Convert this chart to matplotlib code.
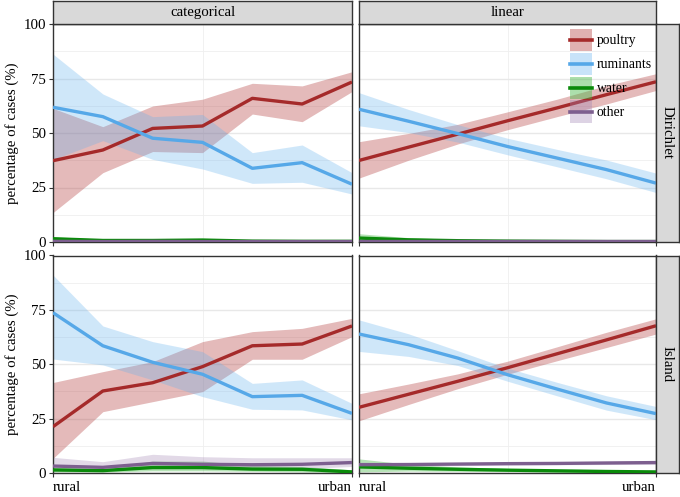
import matplotlib
matplotlib.use("Agg")
import matplotlib.pyplot as plt
from matplotlib.patches import Rectangle
from matplotlib.lines import Line2D
from matplotlib.legend_handler import HandlerBase

plt.rcParams['font.family'] = ['Liberation Serif', 'DejaVu Serif']

# ---------------- data ----------------
x_pos = [0, 1, 2, 3, 4, 5, 6]
x_tick_pos = [0, 6]
x_tick_labels = ['rural', 'urban']
y_ticks = [0, 25, 50, 75, 100]
col_labels = ['categorical', 'linear']
row_labels = ['Dirichlet', 'Island']
series_names = ['poultry', 'ruminants', 'water', 'other']

# Dirichlet / categorical
dc_poultry = [37.3, 42.2, 52.1, 53.2, 65.9, 63.3, 73.4]
dc_poultry_lo = [13.5, 31.8, 41.5, 41.0, 58.7, 55.2, 69.0]
dc_poultry_hi = [61.3, 52.9, 62.4, 65.5, 72.8, 71.6, 78.1]
dc_rumin = [61.8, 57.5, 47.6, 45.7, 33.8, 36.4, 26.5]
dc_rumin_lo = [37.8, 46.5, 37.9, 33.5, 26.9, 27.4, 22.0]
dc_rumin_hi = [86.2, 67.9, 57.5, 58.5, 41.0, 44.5, 31.8]
dc_water = [1.5, 0.7, 0.7, 0.9, 0.4, 0.3, 0.3]
dc_water_lo = [0.3, 0.1, 0.1, 0.2, 0.05, 0.05, 0.05]
dc_water_hi = [2.4, 1.3, 1.4, 1.6, 0.9, 0.7, 0.6]
dc_other = [0.3, 0.2, 0.3, 0.2, 0.2, 0.2, 0.2]
dc_other_lo = [0.05, 0.05, 0.05, 0.05, 0.05, 0.05, 0.05]
dc_other_hi = [0.8, 0.6, 0.7, 0.6, 0.5, 0.5, 0.5]

# Dirichlet / linear
dl_poultry = [37.4, 43.5, 49.5, 55.6, 61.5, 67.6, 73.5]
dl_poultry_lo = [29.3, 37.5, 45.0, 51.5, 57.5, 63.3, 69.5]
dl_poultry_hi = [46.0, 49.8, 54.0, 59.7, 65.5, 71.8, 77.2]
dl_rumin = [60.9, 55.4, 49.7, 43.8, 38.5, 33.2, 27.0]
dl_rumin_lo = [53.3, 50.2, 45.8, 40.0, 34.5, 29.0, 22.7]
dl_rumin_hi = [68.5, 60.8, 53.8, 47.6, 42.5, 37.6, 31.6]
dl_water = [1.8, 1.0, 0.6, 0.4, 0.3, 0.2, 0.2]
dl_water_lo = [0.6, 0.4, 0.2, 0.1, 0.1, 0.05, 0.05]
dl_water_hi = [3.8, 2.0, 1.2, 0.8, 0.6, 0.4, 0.4]
dl_other = [0.3, 0.3, 0.3, 0.3, 0.3, 0.3, 0.3]
dl_other_lo = [0.1, 0.1, 0.1, 0.1, 0.1, 0.1, 0.1]
dl_other_hi = [0.6, 0.6, 0.6, 0.6, 0.6, 0.6, 0.6]

# Island / categorical
ic_poultry = [21.3, 37.7, 41.5, 48.9, 58.5, 59.3, 67.6]
ic_poultry_lo = [6.7, 28.2, 32.8, 37.4, 52.3, 52.3, 62.7]
ic_poultry_hi = [41.6, 46.6, 51.2, 60.4, 65.0, 66.5, 71.1]
ic_rumin = [73.7, 58.5, 50.9, 45.4, 35.1, 35.7, 27.4]
ic_rumin_lo = [52.4, 49.7, 42.8, 35.1, 29.3, 29.0, 24.4]
ic_rumin_hi = [91.0, 67.6, 60.4, 55.8, 41.2, 42.8, 32.0]
ic_water = [1.4, 1.1, 2.5, 2.5, 1.8, 1.7, 0.5]
ic_water_lo = [0.5, 0.4, 1.0, 1.0, 0.8, 0.5, 0.1]
ic_water_hi = [2.5, 2.0, 5.5, 5.5, 3.5, 3.0, 1.5]
ic_other = [3.2, 2.6, 4.4, 4.0, 3.8, 4.0, 4.8]
ic_other_lo = [1.5, 1.0, 2.5, 2.0, 2.0, 2.0, 3.0]
ic_other_hi = [7.2, 5.2, 8.6, 7.5, 7.0, 7.0, 7.0]

# Island / linear
il_poultry = [30.2, 36.2, 42.2, 48.4, 54.8, 61.2, 67.7]
il_poultry_lo = [24.0, 31.5, 38.8, 45.4, 51.6, 57.7, 63.9]
il_poultry_hi = [36.4, 40.9, 45.6, 51.4, 58.0, 64.7, 70.9]
il_rumin = [63.9, 59.0, 52.8, 45.2, 38.6, 32.2, 27.3]
il_rumin_lo = [55.9, 53.6, 49.4, 42.2, 35.5, 28.9, 24.5]
il_rumin_hi = [70.4, 64.0, 56.2, 48.2, 41.7, 35.5, 30.6]
il_water = [2.8, 2.2, 1.7, 1.3, 1.0, 0.7, 0.5]
il_water_lo = [0.5, 0.9, 0.8, 0.6, 0.4, 0.3, 0.2]
il_water_hi = [6.5, 4.0, 2.8, 2.1, 1.6, 1.2, 0.9]
il_other = [3.8, 3.9, 4.1, 4.3, 4.4, 4.6, 4.8]
il_other_lo = [2.8, 3.1, 3.4, 3.6, 3.8, 3.9, 4.0]
il_other_hi = [5.0, 4.8, 4.9, 5.0, 5.2, 5.4, 5.7]

line_colors = ['#a52a2a', '#56a8e8', '#0a8a0a', '#7d5f8f']
band_colors = ['#b84a4a', '#63b1ee', '#3fb63f', '#9f82b2']
band_alpha = [0.38, 0.3, 0.38, 0.3]

panels = [
    [[(dc_poultry, dc_poultry_lo, dc_poultry_hi), (dc_rumin, dc_rumin_lo, dc_rumin_hi),
      (dc_water, dc_water_lo, dc_water_hi), (dc_other, dc_other_lo, dc_other_hi)],
     [(dl_poultry, dl_poultry_lo, dl_poultry_hi), (dl_rumin, dl_rumin_lo, dl_rumin_hi),
      (dl_water, dl_water_lo, dl_water_hi), (dl_other, dl_other_lo, dl_other_hi)]],
    [[(ic_poultry, ic_poultry_lo, ic_poultry_hi), (ic_rumin, ic_rumin_lo, ic_rumin_hi),
      (ic_water, ic_water_lo, ic_water_hi), (ic_other, ic_other_lo, ic_other_hi)],
     [(il_poultry, il_poultry_lo, il_poultry_hi), (il_rumin, il_rumin_lo, il_rumin_hi),
      (il_water, il_water_lo, il_water_hi), (il_other, il_other_lo, il_other_hi)]],
]


class KeyHandle:
    def __init__(self, band, alpha, line):
        self.band, self.alpha, self.line = band, alpha, line


class KeyHandler(HandlerBase):
    def create_artists(self, legend, orig_handle, xdescent, ydescent, width,
                       height, fontsize, trans):
        size = width
        yc = fontsize * 0.3
        rect = Rectangle((-xdescent, yc - size / 2), size, size,
                         facecolor=orig_handle.band, alpha=orig_handle.alpha,
                         lw=0, transform=trans)
        ln = Line2D([-xdescent, -xdescent + size], [yc, yc],
                    color=orig_handle.line, lw=2.6, transform=trans)
        return [rect, ln]


# ---------------- layout ----------------
W, H = 680, 497
fig = plt.figure(figsize=(W / 100, H / 100), dpi=100)

col_x = [(53, 352), (359, 656)]
row_y = [(24, 242), (255.5, 473)]
strip_top = (1, 23.5)
strip_right = (656, 679)
border_col = '#333333'
fs = 10.7
leg_fs = 9.8

def fx(px):
    return px / W

def fy(py):
    return 1 - py / H

for r in range(2):
    for c in range(2):
        x0, x1 = col_x[c]
        y0, y1 = row_y[r]
        ax = fig.add_axes([fx(x0), fy(y1), fx(x1) - fx(x0), fy(y0) - fy(y1)])
        ax.set_xlim(x_pos[0], x_pos[-1])
        ax.set_ylim(0, 100)
        ax.set_yticks(y_ticks)
        ax.set_yticks([12.5, 37.5, 62.5, 87.5], minor=True)
        ax.set_xticks(x_tick_pos)
        ax.set_xticks([3], minor=True)
        ax.grid(which='major', axis='y', color='#e8e8e8', lw=1.0, zorder=0)
        ax.grid(which='minor', color='#efefef', lw=0.6, zorder=0)
        ax.set_axisbelow(True)
        for sp in ax.spines.values():
            sp.set_color(border_col)
            sp.set_linewidth(1.0)
        ax.tick_params(which='minor', length=0)
        ax.tick_params(which='major', length=3, width=0.8, color='#333333',
                       labelsize=fs, pad=2)
        if c == 0:
            ax.set_yticklabels([str(v) for v in y_ticks])
            ax.set_ylabel('percentage of cases (%)', fontsize=fs, labelpad=3)
        else:
            ax.tick_params(axis='y', length=0, labelleft=False)
        if r == 1:
            labs = ax.set_xticklabels(x_tick_labels)
            labs[0].set_ha('left')
            labs[1].set_ha('right')
            ax.tick_params(axis='x', pad=3)
        else:
            ax.tick_params(axis='x', labelbottom=False)

        data = panels[r][c]
        for i, (mid, lo, hi) in enumerate(data):
            ax.fill_between(x_pos, lo, hi, color=band_colors[i], alpha=band_alpha[i],
                            lw=0, zorder=2)
        for i, (mid, lo, hi) in enumerate(data):
            ax.plot(x_pos, mid, color=line_colors[i], lw=2.4, zorder=3,
                    solid_capstyle='butt')

        if r == 0 and c == 1:
            handles = [KeyHandle(band_colors[i], band_alpha[i] + 0.05, line_colors[i])
                       for i in range(4)]
            ax.legend(handles, series_names, handler_map={KeyHandle: KeyHandler()},
                      loc='upper left', bbox_to_anchor=(0.71, 0.957), frameon=False,
                      fontsize=leg_fs, handlelength=1.62, handleheight=1.0,
                      labelspacing=0.74, handletextpad=0.37, borderaxespad=0.0,
                      borderpad=0.0)

# top strips
for c in range(2):
    x0, x1 = col_x[c]
    sax = fig.add_axes([fx(x0), fy(strip_top[1]), fx(x1) - fx(x0), fy(strip_top[0]) - fy(strip_top[1])])
    sax.set_facecolor('#d9d9d9')
    sax.set_xticks([]); sax.set_yticks([])
    for sp in sax.spines.values():
        sp.set_color(border_col); sp.set_linewidth(1.0)
    sax.text(0.5, 0.5, col_labels[c], ha='center', va='center', fontsize=fs,
             transform=sax.transAxes)

# right strips
for r in range(2):
    y0, y1 = row_y[r]
    sax = fig.add_axes([fx(strip_right[0]), fy(y1), fx(strip_right[1]) - fx(strip_right[0]), fy(y0) - fy(y1)])
    sax.set_facecolor('#d9d9d9')
    sax.set_xticks([]); sax.set_yticks([])
    for sp in sax.spines.values():
        sp.set_color(border_col); sp.set_linewidth(1.0)
    sax.text(0.5, 0.5, row_labels[r], ha='center', va='center', fontsize=fs,
             rotation=-90, transform=sax.transAxes)

fig.savefig('out.png', dpi=100)
